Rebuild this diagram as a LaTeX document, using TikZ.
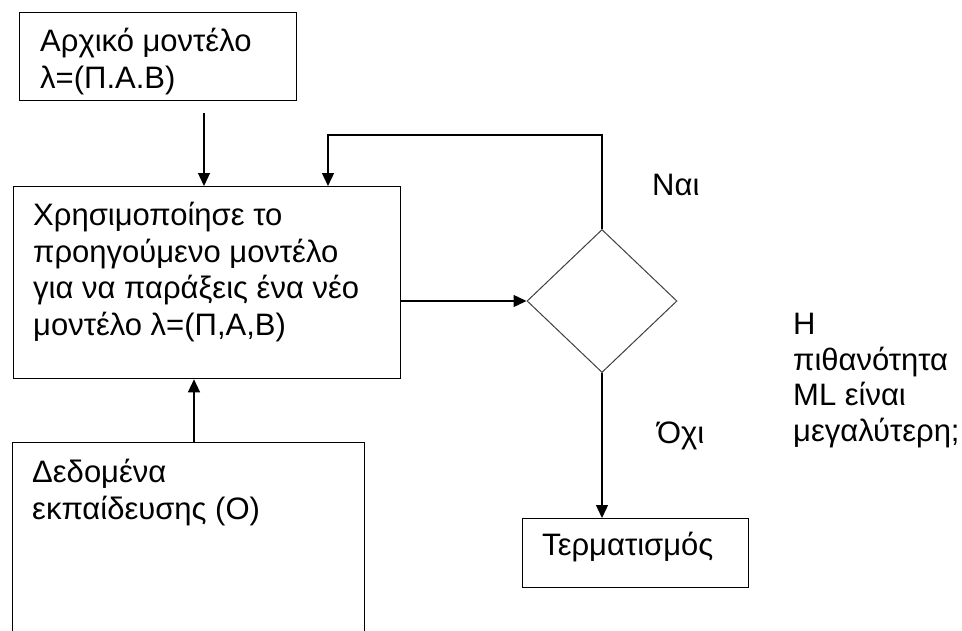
\documentclass[tikz,border=0pt]{standalone}
\usepackage{fontspec}
\setmainfont{Liberation Sans}
\usetikzlibrary{arrows.meta,shapes.geometric}
\begin{document}
\begin{tikzpicture}[x=1pt,y=-1pt,
  box/.style={draw, line width=1.3pt, inner sep=0pt, anchor=north west},
  % multi-line labels are placed by the baseline of their last line
  txt/.style={anchor=base west, inner sep=0pt, font=\fontsize{31}{36.5}\selectfont, align=left},
  arr/.style={line width=1.3pt, -{Triangle[width=12pt,length=13pt]}},
  decision/.style={draw=black!75, line width=1pt, diamond, inner sep=0pt,
    minimum width=150pt, minimum height=143pt, aspect=1.05},
  ]
\clip (0,0) rectangle (962,630);
\fill[white] (0,0) rectangle (962,630);

% boxes
\node[box, minimum width=277pt, minimum height=88pt] (init) at (19,12) {};
\node[box, minimum width=387pt, minimum height=192pt] (update) at (13,186) {};
\node[box, minimum width=352pt, minimum height=250pt] (data) at (12,442) {};
\node[box, minimum width=226pt, minimum height=69pt] (term) at (522,518) {};
\node[decision] (dec) at (602,301) {};

% texts
\node[txt] (initT) at (40,88) {Αρχικό μοντέλο\\λ=(Π.Α.Β)};
\node[txt] (updateT) at (33,335) {Χρησιμοποίησε το\\προηγούμενο μοντέλο\\για να παράξεις ένα νέο\\μοντέλο λ=(Π,Α,Β)};
\node[txt] (dataT) at (32,519) {Δεδομένα\\εκπαίδευσης (Ο)};
\node[txt] (termT) at (542,555) {Τερματισμός};
\node[txt] (yes) at (652,195) {Ναι};
\node[txt] (no) at (657,443) {Όχι};
\node[txt, font=\fontsize{31}{35.5}\selectfont] (question) at (793,441) {Η\\πιθανότητα\\ML είναι\\μεγαλύτερη;};

% connectors
\coordinate (initOut) at (204,113);
\coordinate (loop) at (328,135);
\coordinate (dataOut) at (194,442);
\draw[arr] (initOut) -- (initOut |- update.north);
\draw[arr] (dataOut) -- (dataOut |- update.south);
\draw[arr] (update.east |- dec.west) -- (dec.west);
\draw[arr] (dec.north) |- (loop) -- (loop |- update.north);
\draw[arr] (dec.south) -- (dec.south |- term.north);
\end{tikzpicture}
\end{document}
